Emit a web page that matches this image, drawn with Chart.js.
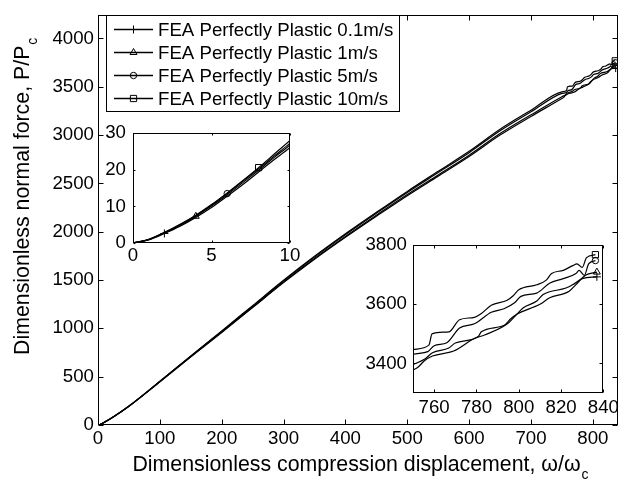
<!DOCTYPE html>
<html>
<head>
<meta charset="utf-8">
<script src="https://cdn.jsdelivr.net/npm/chart.js@4/dist/chart.umd.min.js"></script>
<style>
  body { margin: 0; background: #fff; }
  #wrap { position: relative; width: 623px; height: 492px; overflow: hidden; background: #fff; }
  canvas { position: absolute; }
</style>
</head>
<body>
<div id="wrap">
  <canvas id="main" width="623" height="492" style="left:0;top:0"></canvas>
  <canvas id="insetStart" width="215" height="160" style="left:90px;top:115px"></canvas>
  <canvas id="insetEnd" width="268" height="197" style="left:355px;top:228px"></canvas>
</div>
<script>
// legend labels
const seriesLabels = [
  "FEA Perfectly Plastic 0.1m/s",
  "FEA Perfectly Plastic 1m/s",
  "FEA Perfectly Plastic 5m/s",
  "FEA Perfectly Plastic 10m/s",
];

// displacement w/wc, shared for the first part of the curves
const dispStart = [0, 1, 2, 3, 4, 5, 6, 7, 8, 9, 10, 25, 50, 100, 150, 200, 250, 300, 350, 400, 450, 500, 550, 600, 650, 700];

// force P/Pc on dispStart
const force01Start = [0, 0.85, 2.6, 4.6, 7.0, 9.7, 12.8, 16.0, 19.4, 22.8, 26.1, 84, 194, 447, 705, 957, 1215, 1473, 1715, 1942, 2160, 2373, 2575, 2778, 3000, 3193];
const force1Start = [0, 0.9, 2.7, 4.8, 7.3, 10.1, 13.2, 16.5, 19.9, 23.4, 26.8, 85, 195, 448, 707, 961, 1220, 1479, 1722, 1951, 2170, 2384, 2587, 2791, 3015, 3209];
const force5Start = [0, 0.95, 2.8, 5.0, 7.5, 10.3, 13.5, 16.9, 20.3, 23.8, 27.3, 85, 195, 451, 712, 969, 1230, 1491, 1737, 1969, 2190, 2406, 2612, 2818, 3045, 3241];
const force10Start = [0, 1.0, 2.9, 5.1, 7.6, 10.5, 13.7, 17.1, 20.6, 24.3, 28.0, 86, 196, 453, 715, 973, 1235, 1497, 1745, 1978, 2200, 2417, 2625, 2832, 3060, 3257];

// last part of the curves
const dispEnd01 = [750, 752.3, 755.4, 759.2, 769.2, 779.2, 783.8, 794.6, 797.7, 802.3, 808.5, 811.5, 822.3, 825.4, 830, 836.9];
const forceEnd01 = [3378, 3387, 3409, 3425, 3442, 3485, 3496, 3534, 3556, 3589, 3611, 3633, 3655, 3666, 3687, 3693];
const dispEnd1 = [750, 755.4, 759.2, 766.9, 770, 780.8, 782.3, 793.1, 796.2, 799.2, 810, 814.6, 823.8, 826.9, 831.5, 836.9];
const forceEnd1 = [3396, 3414, 3436, 3452, 3469, 3491, 3507, 3529, 3551, 3567, 3600, 3622, 3644, 3666, 3698, 3709];
const dispEnd5 = [750, 757, 760, 766, 772, 779, 787, 793, 798, 801, 808.5, 814.5, 821, 827, 828.5, 831, 833, 836.2];
const forceEnd5 = [3431, 3440, 3460, 3470, 3520, 3534, 3573, 3585, 3605, 3627, 3638, 3671, 3687, 3704, 3715, 3698, 3737, 3748];
const dispEnd10 = [750, 757.5, 759, 767, 772, 779, 782, 787, 794.5, 797.5, 800, 808.5, 813, 815.5, 821, 825.5, 827.5, 830, 832, 836.2];
const forceEnd10 = [3447, 3462, 3500, 3507, 3548, 3556, 3567, 3597, 3614, 3630, 3649, 3666, 3682, 3704, 3715, 3731, 3737, 3725, 3758, 3768];

// tick labels
const mainXTicks = [0, 100, 200, 300, 400, 500, 600, 700, 800];
const mainYTicks = [0, 500, 1000, 1500, 2000, 2500, 3000, 3500, 4000];
const startXTicks = [0, 5, 10];
const startYTicks = [0, 10, 20, 30];
const endXTicks = [760, 780, 800, 820, 840];
const endYTicks = [3400, 3600, 3800];

const FONT = '"Liberation Sans", Arial, Helvetica, sans-serif';
Chart.defaults.font.family = FONT;
Chart.defaults.font.size = 18.67;
Chart.defaults.color = "#000";

const markerStyles = ["cross", "triangle", "circle", "rect"];
const markerSizes = [4, 4, 3.2, 4.4];
const startMarkerX = [2, 4, 6, 8]; // where the small inset shows a marker
const CLEAR = "rgba(0,0,0,0)";

const toPoints = (xs, ys) => xs.map((x, i) => ({ x: x, y: ys[i] }));
const seriesData = [
  toPoints(dispStart.concat(dispEnd01), force01Start.concat(forceEnd01)),
  toPoints(dispStart.concat(dispEnd1), force1Start.concat(forceEnd1)),
  toPoints(dispStart.concat(dispEnd5), force5Start.concat(forceEnd5)),
  toPoints(dispStart.concat(dispEnd10), force10Start.concat(forceEnd10)),
];

function makeDatasets(markerAt, lineWidth) {
  return seriesData.map((pts, k) => ({
    label: seriesLabels[k],
    data: pts,
    borderColor: "#000",
    borderWidth: lineWidth,
    pointStyle: markerStyles[k],
    pointBorderColor: "#000",
    pointBackgroundColor: CLEAR,
    pointBorderWidth: 1,
    pointRadius: (c) => (markerAt(k, c.dataIndex, pts) ? markerSizes[k] : 0),
    cubicInterpolationMode: "monotone",
  }));
}

// box round the plot with inward ticks on all four sides
const frame = {
  id: "frame",
  beforeDatasetsDraw(chart, args, opts) {
    if (!opts.fill) return;
    const a = chart.chartArea;
    chart.ctx.save();
    chart.ctx.fillStyle = "#fff";
    chart.ctx.fillRect(a.left, a.top, a.width, a.height);
    chart.ctx.restore();
  },
  afterDraw(chart, args, opts) {
    const { ctx, chartArea: a, scales } = chart;
    const t = opts.tick;
    const L = Math.round(a.left) + 0.5, R = Math.round(a.right) - 0.5;
    const T = Math.round(a.top) + 0.5, B = Math.round(a.bottom) - 0.5;
    ctx.save();
    ctx.strokeStyle = "#000";
    ctx.lineWidth = 1;
    ctx.beginPath();
    scales.x.ticks.forEach((tk) => {
      const p = Math.round(scales.x.getPixelForValue(tk.value)) + 0.5;
      ctx.moveTo(p, B); ctx.lineTo(p, B - t);
      ctx.moveTo(p, T); ctx.lineTo(p, T + t);
    });
    scales.y.ticks.forEach((tk) => {
      const p = Math.round(scales.y.getPixelForValue(tk.value)) + 0.5;
      ctx.moveTo(L, p); ctx.lineTo(L + t, p);
      ctx.moveTo(R, p); ctx.lineTo(R - t, p);
    });
    ctx.stroke();
    ctx.strokeRect(L, T, R - L, B - T);
    ctx.restore();
  },
};

// axis titles and legend of the main plot
const decorations = {
  id: "decorations",
  afterDraw(chart) {
    const ctx = chart.ctx;
    ctx.save();
    ctx.fillStyle = "#000";
    ctx.textBaseline = "alphabetic";
    ctx.textAlign = "left";
    const big = "21.33px " + FONT, sub = "14px " + FONT;

    // x title
    const xt = "Dimensionless compression displacement, \u03c9/\u03c9";
    ctx.font = big;
    const xw = ctx.measureText(xt).width;
    ctx.font = sub;
    const cw = ctx.measureText("c").width;
    const x0 = 360 - (xw + cw) / 2;
    ctx.font = big;
    ctx.fillText(xt, x0, 471);
    ctx.font = sub;
    ctx.fillText("c", x0 + xw + 1, 479);

    // y title
    ctx.translate(29, 0);
    ctx.rotate(-Math.PI / 2);
    const yt = "Dimensionless normal force, P/P";
    ctx.font = big;
    const yw = ctx.measureText(yt).width;
    ctx.fillText(yt, -355, 0);
    ctx.font = sub;
    ctx.fillText("c", -355 + yw + 1, 8);
    ctx.setTransform(1, 0, 0, 1, 0, 0);

    // legend
    ctx.fillStyle = "#fff";
    ctx.fillRect(106, 15, 294, 96);
    ctx.strokeStyle = "#000";
    ctx.lineWidth = 1;
    ctx.strokeRect(106.5, 15.5, 293, 96);
    ctx.font = "18.67px " + FONT;
    ctx.textBaseline = "middle";
    chart.data.datasets.forEach((ds, k) => {
      const yy = 29.5 + k * 23;
      ctx.beginPath();
      ctx.moveTo(114, yy);
      ctx.lineTo(153, yy);
      ctx.lineWidth = 1.3;
      ctx.stroke();
      ctx.lineWidth = 1;
      ctx.fillStyle = CLEAR;
      Chart.helpers.drawPoint(ctx, { pointStyle: markerStyles[k], radius: markerSizes[k], rotation: 0, borderWidth: 1 }, 133.5, yy);
      ctx.fillStyle = "#000";
      ctx.fillText(ds.label, 158, yy + 1);
    });
    ctx.restore();
  },
};

function scale(min, max, ticks, sizeProp, size, pad) {
  return {
    type: "linear",
    min: min,
    max: max,
    grid: { display: false, drawTicks: false },
    border: { display: false },
    afterBuildTicks: (s) => { s.ticks = ticks.map((v) => ({ value: v })); },
    afterFit: (s) => { s[sizeProp] = size; },
    ticks: { padding: pad, maxRotation: 0, autoSkip: false, callback: (v) => String(v) },
  };
}

function baseOptions(pad, xs, ys, frameOpts) {
  return {
    responsive: false,
    animation: false,
    devicePixelRatio: 1,
    layout: { padding: pad },
    scales: { x: xs, y: ys },
    plugins: { legend: { display: false }, tooltip: { enabled: false }, frame: frameOpts },
  };
}

const isLast = (k, i, pts) => i === pts.length - 1;

new Chart(document.getElementById("main"), {
  type: "line",
  data: { datasets: makeDatasets(isLast, 1.2) },
  options: baseOptions(
    { top: 9, right: 1, left: 0, bottom: 0 },
    scale(0, 840, mainXTicks, "height", 67, 3),
    scale(0, 4240, mainYTicks, "width", 98, 4),
    { tick: 5, fill: false }
  ),
  plugins: [frame, decorations],
});

new Chart(document.getElementById("insetStart"), {
  type: "line",
  data: { datasets: makeDatasets((k, i, pts) => pts[i].x === startMarkerX[k], 1.2) },
  options: baseOptions(
    { top: 11, right: 15, left: 0, bottom: 0 },
    scale(0, 10, startXTicks, "height", 32, 2),
    scale(0, 30, startYTicks, "width", 43, 7),
    { tick: 2, fill: true }
  ),
  plugins: [frame],
});

new Chart(document.getElementById("insetEnd"), {
  type: "line",
  data: { datasets: makeDatasets(isLast, 1.2) },
  options: baseOptions(
    { top: 13, right: 17, left: 0, bottom: 0 },
    scale(750, 840, endXTicks, "height", 32, 4),
    scale(3300, 3800, endYTicks, "width", 58, 6),
    { tick: 3, fill: true }
  ),
  plugins: [frame],
});
</script>
</body>
</html>
